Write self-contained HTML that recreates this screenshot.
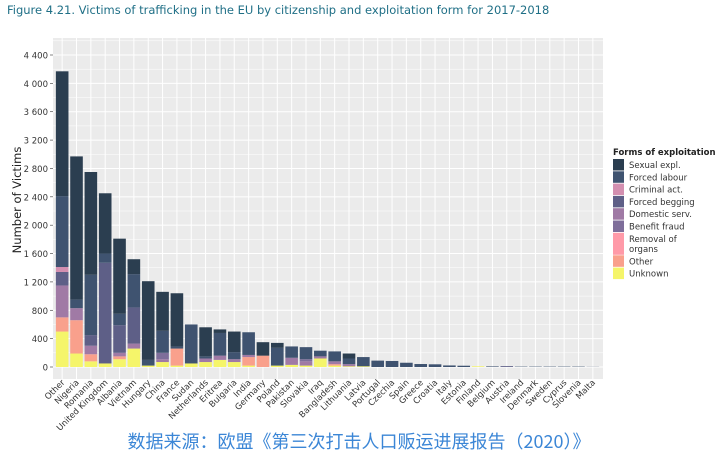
<!DOCTYPE html>
<html><head><meta charset="utf-8"><style>
body{margin:0;background:#fff;width:717px;height:455px;overflow:hidden;font-family:"Liberation Sans","DejaVu Sans",sans-serif}
</style></head><body>
<svg id="s" width="717" height="455" xmlns="http://www.w3.org/2000/svg" font-family="DejaVu Sans, Liberation Sans, sans-serif">
<text x="7" y="14" font-size="11.5" fill="#1f6f86">Figure 4.21. Victims of trafficking in the EU by citizenship and exploitation form for 2017-2018</text>
<rect x="53" y="38" width="550" height="341" fill="#ebebeb"/>
<g id="g"></g>
<text transform="translate(21,200) rotate(-90)" text-anchor="middle" font-size="11.5" fill="#222">Number of Victims</text>
<text x="613" y="155" font-size="8.5" font-weight="bold" fill="#222">Forms of exploitation</text>
<text x="359" y="448" text-anchor="middle" font-size="18" fill="#3b86d6" font-family="Noto Sans CJK SC, sans-serif">数据来源：欧盟《第三次打击人口贩运进展报告（2020）》</text>
</svg>
<script>
const C={s:"#2b3e50",l:"#3f5370",c:"#d38fb0",b:"#5e5f87",d:"#a07aa5",f:"#7e6e9a",r:"#ff9aa8",o:"#f9a08c",u:"#f5f56a"};
const data=[
["Other",[["u",500],["o",200],["d",450],["b",190],["c",70],["l",1000],["s",1760]]],
["Nigeria",[["u",190],["o",470],["d",170],["l",120],["s",2020]]],
["Romania",[["u",80],["o",100],["d",120],["b",150],["l",850],["s",1450]]],
["United Kingdom",[["u",50],["b",1420],["l",130],["s",850]]],
["Albania",[["u",110],["o",40],["d",50],["b",390],["l",160],["s",1060]]],
["Vietnam",[["u",260],["d",70],["b",510],["l",470],["s",210]]],
["Hungary",[["u",20],["l",80],["s",1110]]],
["China",[["u",70],["d",40],["f",90],["l",310],["s",550]]],
["France",[["u",20],["o",240],["l",30],["s",750]]],
["Sudan",[["u",50],["l",550]]],
["Netherlands",[["u",70],["d",50],["l",30],["s",410]]],
["Eritrea",[["u",100],["d",60],["l",320],["s",50]]],
["Bulgaria",[["u",70],["d",40],["l",100],["s",290]]],
["India",[["u",20],["o",120],["d",30],["l",320]]],
["Germany",[["o",160],["s",190]]],
["Poland",[["u",20],["l",250],["s",70]]],
["Pakistan",[["u",30],["d",100],["l",160]]],
["Slovakia",[["u",20],["d",60],["f",30],["l",170]]],
["Iraq",[["u",120],["d",30],["l",80]]],
["Bangladesh",[["u",20],["o",20],["d",40],["l",140]]],
["Lithuania",[["u",10],["d",30],["l",80],["s",70]]],
["Latvia",[["u",10],["l",130]]],
["Portugal",[["l",90]]],["Czechia",[["l",85]]],["Spain",[["l",60]]],["Greece",[["l",42]]],["Croatia",[["l",38]]],["Italy",[["l",22]]],["Estonia",[["l",18]]],["Finland",[["u",10]]],["Belgium",[["l",8]]],["Austria",[["b",12]]],["Ireland",[["l",5]]],["Denmark",[["l",5]]],["Sweden",[["l",5]]],["Cyprus",[["l",5]]],["Slovenia",[["l",5]]],["Malta",[["l",2]]]];
const y0=367,k=(367-55)/4400,x0=55,w=(600-55)/data.length;
let h="";
for(let v=200;v<=4600;v+=200){let y=y0-v*k;if(y<38)break;h+=`<line x1="53" x2="603" y1="${y}" y2="${y}" stroke="#fff" stroke-width="${v%400?0.5:1}"/>`;}
h+=`<line x1="53" x2="603" y1="${y0}" y2="${y0}" stroke="#fff"/>`;
data.forEach((d,i)=>{let cx=x0+w*i+w/2;h+=`<line x1="${cx}" x2="${cx}" y1="38" y2="379" stroke="#fff" stroke-width="1"/>`;});
for(let v=0;v<=4400;v+=400){let y=y0-v*k;h+=`<text x="48" y="${y+3.5}" text-anchor="end" font-size="8.5" fill="#333">${v>=1000?Math.floor(v/1000)+" "+String(v%1000).padStart(3,"0"):v}</text><line x1="50" x2="53" y1="${y}" y2="${y}" stroke="#333" stroke-width="0.6"/>`;}
data.forEach((d,i)=>{let cx=x0+w*i+w/2,acc=0;d[1].forEach(([c,v])=>{let y=y0-(acc+v)*k;h+=`<rect x="${cx-6.3}" y="${y}" width="12.6" height="${v*k}" fill="${C[c]}"/>`;acc+=v;});
h+=`<text transform="translate(${cx+3},${383}) rotate(-45)" text-anchor="end" font-size="8.5" fill="#333">${d[0]}</text>`;});
const L=[["s","Sexual expl."],["l","Forced labour"],["c","Criminal act."],["b","Forced begging"],["d","Domestic serv."],["f","Benefit fraud"],["r","Removal of"],["o","Other"],["u","Unknown"]];
let ly=159;L.forEach(([c,t],i)=>{h+=`<rect x="613" y="${ly}" width="11" height="${i==6?22:11.5}" fill="${C[c]}"/><text x="629" y="${ly+9}" font-size="8.5" fill="#333">${t}</text>`;if(i==6){h+=`<text x="629" y="${ly+19}" font-size="8.5" fill="#333">organs</text>`;ly+=22.5}else ly+=12.3;});
document.getElementById("g").innerHTML=h;
</script>
</body></html>
